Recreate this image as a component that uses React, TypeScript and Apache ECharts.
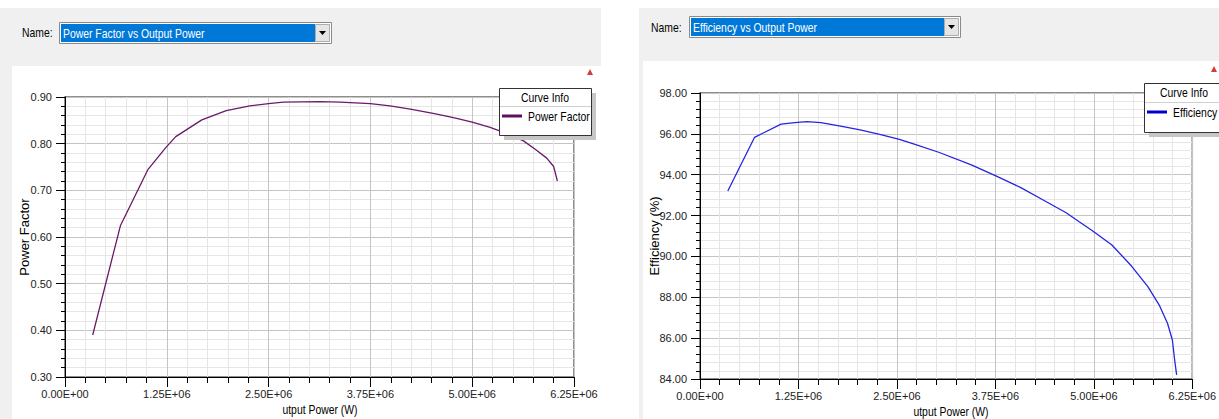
import React, { useEffect, useRef } from "react";
import * as echarts from "echarts";

// ---- data ----
const pfPower = [0.34e6, 0.68e6, 1.02e6, 1.24e6, 1.36e6, 1.68e6, 1.98e6, 2.27e6, 2.5e6, 2.68e6, 3.13e6, 3.38e6, 3.75e6, 3.99e6, 4.24e6, 4.52e6, 4.77e6, 5.0e6, 5.22e6, 5.42e6, 5.63e6, 5.79e6, 5.915e6, 6.0e6, 6.046e6];
const pfValues = [0.39, 0.624, 0.745, 0.792, 0.815, 0.851, 0.871, 0.881, 0.886, 0.889, 0.89, 0.889, 0.886, 0.881, 0.874, 0.865, 0.856, 0.846, 0.835, 0.822, 0.806, 0.786, 0.769, 0.751, 0.72];

const effPower = [0.353e6, 0.693e6, 1.029e6, 1.204e6, 1.357e6, 1.535e6, 1.784e6, 2.033e6, 2.282e6, 2.531e6, 2.72e6, 3.03e6, 3.445e6, 3.756e6, 4.067e6, 4.357e6, 4.648e6, 4.814e6, 5.0e6, 5.229e6, 5.478e6, 5.686e6, 5.83e6, 5.935e6, 5.997e6, 6.026e6, 6.051e6];
const effValues = [93.2, 95.83, 96.48, 96.55, 96.6, 96.55, 96.38, 96.19, 95.98, 95.73, 95.5, 95.1, 94.48, 93.94, 93.38, 92.76, 92.14, 91.7, 91.21, 90.56, 89.53, 88.52, 87.62, 86.73, 85.91, 84.93, 84.2];

const xTickStep = 1.25e6;
const xMax = 6.25e6;
const pfRange = [0.3, 0.9];
const effRange = [84, 98];

const FONT = "'Liberation Sans', Arial, sans-serif";
const SX = 0.8;

function sci(v: number): string {
  if (v === 0) return "0.00E+00";
  const e = Math.floor(Math.log10(Math.abs(v)) + 1e-9);
  const m = v / Math.pow(10, e);
  return m.toFixed(2) + "E" + (e >= 0 ? "+" : "-") + String(Math.abs(e)).padStart(2, "0");
}

function xAxisCfg(gridIndex: number) {
  return {
    type: "value",
    gridIndex,
    min: 0,
    max: xMax,
    interval: xTickStep,
    axisLine: { show: true, onZero: false, lineStyle: { color: "#000", width: 1 } },
    axisTick: { show: true, length: 10, lineStyle: { color: "#000" } },
    minorTick: { show: true, splitNumber: 5, length: 6, lineStyle: { color: "#000" } },
    axisLabel: { formatter: (v: number) => sci(v), fontFamily: FONT, fontSize: 11, color: "#222", margin: 11 },
    splitLine: { show: true, lineStyle: { color: "#c4c4c4", width: 1 } },
    minorSplitLine: { show: true, lineStyle: { color: "#e6e6e6", width: 1 } },
  };
}

function yAxisCfg(gridIndex: number, range: number[], interval: number, digits: number) {
  return {
    type: "value",
    gridIndex,
    min: range[0],
    max: range[1],
    interval,
    axisLine: { show: true, onZero: false, lineStyle: { color: "#000", width: 1 } },
    axisTick: { show: true, length: 9, lineStyle: { color: "#000" } },
    minorTick: { show: true, splitNumber: 5, length: 4, lineStyle: { color: "#000" } },
    axisLabel: { formatter: (v: number) => v.toFixed(digits), fontFamily: FONT, fontSize: 11, color: "#222", margin: 13 },
    splitLine: { show: true, lineStyle: { color: "#c4c4c4", width: 1 } },
    minorSplitLine: { show: true, lineStyle: { color: "#e6e6e6", width: 1 } },
  };
}

function txt(x: number, y: number, text: string, opts: any = {}) {
  const rotated = !!opts.rotation;
  return {
    type: "text",
    x,
    y,
    z: 100,
    rotation: opts.rotation || 0,
    scaleX: rotated ? 1 : SX,
    style: {
      text,
      fill: opts.fill || "#000",
      font: `${opts.size || 13}px ${FONT}`,
      align: opts.align || "left",
      verticalAlign: "middle",
    },
  };
}

function dropdown(x: number, y: number, w: number, label: string) {
  return [
    { type: "rect", z: 90, shape: { x: x + 0.5, y: y + 0.5, width: w, height: 21 }, style: { fill: "#fff", stroke: "#8a8a8a", lineWidth: 1 } },
    { type: "rect", z: 91, shape: { x: x + 2, y: y + 2, width: w - 18, height: 18 }, style: { fill: "#0078d7" } },
    txt(x + 4, y + 11, label, { fill: "#fff" }),
    { type: "rect", z: 91, shape: { x: x + w - 16 + 0.5, y: y + 2.5, width: 14, height: 17 }, style: { fill: "#e5e5e5", stroke: "#adadad", lineWidth: 1 } },
    { type: "polygon", z: 92, shape: { points: [[x + w - 12, y + 9], [x + w - 5, y + 9], [x + w - 8.5, y + 13]] }, style: { fill: "#000" } },
  ];
}

function legend(x: number, y: number, w: number, h: number, sepY: number, label: string, color: string) {
  return [
    { type: "rect", z: 95, shape: { x: x + 5, y: y + 5, width: w, height: h }, style: { fill: "#c6c6c6" } },
    { type: "rect", z: 96, shape: { x: x + 0.5, y: y + 0.5, width: w, height: h }, style: { fill: "#fff", stroke: "#333", lineWidth: 1 } },
    { type: "line", z: 97, shape: { x1: x + 1, y1: sepY + 0.5, x2: x + w, y2: sepY + 0.5 }, style: { stroke: "#d0d0d0", lineWidth: 1 } },
    txt(x + w / 2, y + 9, "Curve Info", { align: "center" }),
    { type: "line", z: 97, shape: { x1: x + 3, y1: sepY + 10, x2: x + 23, y2: sepY + 10 }, style: { stroke: color, lineWidth: 3 } },
    txt(x + 29, sepY + 10, label),
  ];
}

export default function App() {
  const ref = useRef<HTMLDivElement>(null);
  useEffect(() => {
    if (!ref.current) return;
    const chart = echarts.init(ref.current, null, { renderer: "svg" });
    const graphic: any[] = [
      txt(22, 32, "Name:"),
      ...dropdown(59, 22, 272, "Power Factor vs Output Power"),
      txt(651, 27, "Name:"),
      ...dropdown(689, 16, 271, "Efficiency vs Output Power"),
      { type: "polygon", z: 100, shape: { points: [[587, 75], [590, 69], [593, 75]] }, style: { fill: "#d43b3b" } },
      { type: "polygon", z: 100, shape: { points: [[1211, 72], [1214, 66], [1217, 72]] }, style: { fill: "#d43b3b" } },
      ...legend(499, 88, 92, 47, 106, "Power Factor", "#5e0f5e"),
      ...legend(1144, 83, 80, 49, 102, "Efficiency", "#0000cc"),
      txt(24, 237, "Power Factor", { rotation: Math.PI / 2, align: "center" }),
      txt(320, 409, "utput Power (W)", { align: "center" }),
      txt(654, 236, "Efficiency (%)", { rotation: Math.PI / 2, align: "center" }),
      txt(951, 411, "utput Power (W)", { align: "center" }),
    ];
    chart.setOption({
      animation: false,
      backgroundColor: "transparent",
      grid: [
        { left: 65, top: 97, width: 509, height: 280, show: true, borderColor: "#6a6a6a", borderWidth: 1.5, backgroundColor: "transparent" },
        { left: 700, top: 93, width: 502, height: 286, show: true, borderColor: "#6a6a6a", borderWidth: 1.5, backgroundColor: "transparent" },
      ],
      xAxis: [xAxisCfg(0), xAxisCfg(1)],
      yAxis: [yAxisCfg(0, pfRange, 0.1, 2), yAxisCfg(1, effRange, 2, 2)],
      series: [
        {
          type: "line",
          name: "Power Factor",
          xAxisIndex: 0,
          yAxisIndex: 0,
          data: pfPower.map((p, i) => [p, pfValues[i]]),
          showSymbol: false,
          lineStyle: { color: "#6a1a6a", width: 1.3 },
          z: 5,
        },
        {
          type: "line",
          name: "Efficiency",
          xAxisIndex: 1,
          yAxisIndex: 1,
          data: effPower.map((p, i) => [p, effValues[i]]),
          showSymbol: false,
          lineStyle: { color: "#2525e0", width: 1.3 },
          z: 5,
        },
      ],
      graphic,
    });
    return () => chart.dispose();
  }, []);

  const abs = (l: number, t: number, w: number, h: number, bg: string): React.CSSProperties => ({
    position: "absolute", left: l, top: t, width: w, height: h, background: bg,
  });

  return (
    <div style={{ position: "fixed", left: 0, top: 0, width: 1219, height: 419, background: "#fff", overflow: "hidden" }}>
      <div style={abs(0, 8, 601, 411, "#f0f0f0")} />
      <div style={abs(12, 66, 589, 353, "#fff")} />
      <div style={abs(639, 8, 580, 411, "#f0f0f0")} />
      <div style={abs(643, 61, 576, 358, "#fff")} />
      <div ref={ref} style={{ position: "absolute", left: 0, top: 0, width: 1219, height: 419 }} />
    </div>
  );
}
